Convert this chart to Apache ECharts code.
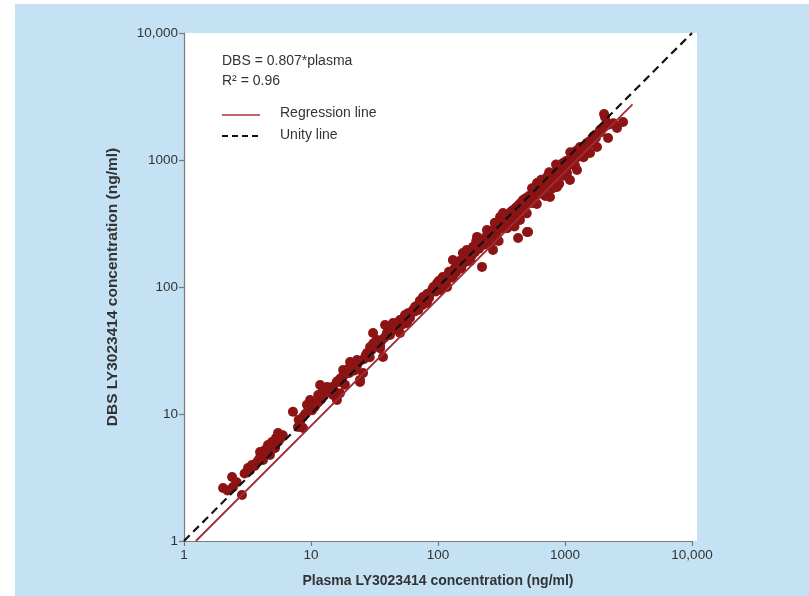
<!DOCTYPE html>
<html><head><meta charset="utf-8">
<script src="https://cdn.jsdelivr.net/npm/echarts@6/dist/echarts.min.js"></script>
<style>html,body{margin:0;padding:0;background:#fff}#c{width:809px;height:596px}</style>
</head><body><div id="c"></div>
<script>
// [plasma (ng/ml), DBS (ng/ml)]
const lowSamples = [
  [2.03,2.61],[2.39,3.19],[2.43,2.66],[2.86,2.30],[3.19,3.76],[3.43,3.97],[3.76,4.19],[3.97,5.02],
  [4.19,4.34],[4.34,5.21],[4.58,5.70],[4.75,4.75],[4.93,6.02],[5.21,5.40],[5.50,7.08],[5.30,6.47],
  [2.6,2.9],[3.0,3.4],[3.6,3.9],[4.0,4.6],[4.4,4.9],[5.0,5.3],[5.6,6.2],[6.0,6.8],
  [2.2,2.5],[3.3,3.6],[3.9,4.4],[4.7,5.5],[5.8,6.5]
];
const midLowSamples = [
  [7.21,10.4],[7.90,7.90],[8.19,8.49],[8.65,9.47],[8.65,7.76],[9.30,11.8],[9.83,12.9],[10.2,10.7],
  [10.7,11.4],[11.4,14.1],[11.8,16.9],[12.4,15.5],[13.4,16.3],[14.9,14.1],[11.4,12.4],[16.9,17.9],
  [24.3,17.9],[16.0,12.9],[16.9,14.6],[17.9,22.2],[21.4,23.4],[23.0,26.6],[24.3,18.5],[25.7,21.0],
  [27.6,30.2],[29.2,33.7],[33.1,38.3],[36.9,28.1],[30.8,43.4],[39.7,43.4],[44.2,52.1],[50.2,55.0],
  [50.2,43.4],[57.0,52.1],[63.5,65.9],[76.2,83.4],[86.5,89.7],[81.9,74.8],[20.3,25.7],[34.9,34.9],
  [41.9,41.9],[45.8,48.4],[55.0,60.2],[60.2,57.0],[69.6,72.1],[38.3,50.2],
  [9,10],[10,11],[10.5,12],[12,13],[13,14.5],[14,16],[15,16.5],[17,19],[18,20],[19,21],[20,23],
  [22,22],[24,26],[26,27],[28,30],[30,32],[32,35],[34,37],[36,38],[40,44],[42,46],[45,47],[48,52],
  [52,55],[55,58],
  [8.0,9.0],[9.5,10.5],[11,12],[12.5,14],[14.5,15],[16,18],[18.5,17],[20,21],
  [23,24],[27,29],[29,28],[31,36],[35,33],[38,40],[43,45],[47,50],[53,51],[58,62]
];
const midSamples = [
  [98.2,107],[109,120],[124,129],[131,163],[149,144],[157,185],[169,196],[189,207],[222,144],
  [203,248],[243,281],[257,266],[271,196],[292,319],[308,356],[325,383],[369,383],[419,427],
  [427,243],[502,271],[442,337],[530,459],[131,120],[104,94.7],[118,100],[141,155],[179,179],
  [214,214],[234,234],[349,337],[390,308],
  [60,62],[66,70],[70,66],[72,78],[78,80],[85,82],[90,95],[95,92],[100,104],[105,98],[112,115],
  [115,108],[120,125],[126,118],[135,140],[138,130],[145,150],[152,140],[160,168],[165,158],
  [175,170],[182,190],[195,188],[200,212],[210,200],[225,230],[230,215],[240,250],[250,238],
  [260,275],[270,258],[280,290],[290,270],[300,310],[315,300],[330,345],[340,320],[350,360],
  [360,340],[375,390],[380,355],[395,400],[400,370],[410,420],[420,390],[430,440],[440,410],
  [450,460],[460,430],[470,480],[480,440],[490,500],[500,460],
  [65,64],[75,72],[82,88],[92,100],[102,112],[108,105],[122,132],[128,122],[140,146],[148,160],
  [155,150],[172,180],[185,178],[198,205],[215,225],[235,242],[255,262],[275,280],[295,290],
  [310,330],[320,290],[335,350],[345,310],[365,370],[385,400],[405,390],[425,410],[445,450],
  [465,440],[485,470],
  [180,160],[200,230],[260,220],[320,360],[380,330],[450,400],[350,290],[280,320],[300,230],
  [400,300],[500,380]
];
const highSamples = [
  [467,484],[442,404],[512,271],[560,459],[602,659],[671,580],[722,735],[762,512],[865,613],
  [865,834],[964,947],[1037,791],[1156,1056],[1243,1135],[1313,1266],[1243,834],[1490,1361],
  [1661,1518],[1786,1266],[1887,1722],[2143,1955],[2183,1490],[2567,1786],[2864,1992],[1574,1135],
  [1094,696],[2066,2183],[2030,2300],
  [515,470],[520,520],[540,490],[550,530],[560,500],[580,560],[590,520],[600,580],[620,540],
  [640,600],[650,560],[680,640],[700,600],[720,680],[740,620],[760,700],[780,660],[800,760],
  [820,700],[850,800],[870,740],[900,850],[920,780],[950,900],[980,820],[1000,950],[1050,900],
  [1100,1000],[1150,980],[1200,1100],[1250,1050],[1300,1200],[1400,1250],[1450,1300],
  [1550,1400],[1600,1350],[1700,1550],[1800,1600],[1900,1650],[2000,1800],
  [505,490],[525,500],[545,510],[565,540],[585,580],[610,560],[630,620],[660,610],[690,660],
  [710,640],[730,700],[750,660],[790,720],[810,780],[840,730],[880,800],[910,880],[940,820],
  [970,900],[1020,980],[1080,920],[1120,1050],[1180,1040],[1230,1180],[1280,1120],[1350,1250],
  [1500,1300],[1650,1450],[1750,1500],[2200,1900],[2400,1950],
  [600,450],[700,520],[800,600],[900,650],[1000,750],[1200,900],[1400,1050],[650,700],[550,600],
  [750,800],[1100,1150],[850,920]
];
const regressionLine = [[1.24,1],[3400,2740]];
const unityLine = [[1,1],[10000,10000]];
const tickLabels = {1:'1',10:'10',100:'100',1000:'1000',10000:'10,000'};
const annotationLines = ['DBS = 0.807*plasma','R² = 0.96'];
const legendNames = ['Regression line','Unity line'];

const samples = lowSamples.concat(midLowSamples, midSamples, highSamples);
const chart = echarts.init(document.getElementById('c'), null, {renderer:'canvas'});
const font = '"Liberation Sans", Arial, Helvetica, sans-serif';
const txt = (x,y,t) => ({type:'text', silent:true, z:10,
  style:{x:x, y:y, text:t, fill:'#333', font:'14px '+font, verticalAlign:'middle', align:'left'}});
const axisCommon = {
  type:'log', logBase:10, min:1, max:10000,
  axisLine:{show:true, lineStyle:{color:'#7a7a7a', width:1.2}},
  axisTick:{show:true, length:5, lineStyle:{color:'#7a7a7a', width:1.2}},
  minorTick:{show:false}, splitLine:{show:false},
  axisLabel:{color:'#333', fontSize:13.5, fontFamily:font, formatter:v=>tickLabels[Math.round(v)]||''},
  nameLocation:'middle'
};
chart.setOption({
  backgroundColor:'#fff',
  animation:false,
  graphic:[
    {type:'rect', shape:{x:15, y:4, width:794, height:592}, style:{fill:'#c4e2f4'}, z:-10, silent:true},
    {type:'rect', shape:{x:184, y:33, width:513, height:508}, style:{fill:'#ffffff'}, z:-9, silent:true},
    txt(222, 61, annotationLines[0]),
    txt(222, 81, annotationLines[1]),
    {type:'line', silent:true, z:10, shape:{x1:222, y1:115, x2:260, y2:115}, style:{stroke:'#a8323e', lineWidth:1.6}},
    {type:'line', silent:true, z:10, shape:{x1:222, y1:136, x2:260, y2:136}, style:{stroke:'#111', lineWidth:2.2, lineDash:[6,4]}},
    txt(280, 113, legendNames[0]),
    txt(280, 135, legendNames[1])
  ],
  grid:{left:184, top:33, width:508, height:508, show:false},
  xAxis:Object.assign({}, axisCommon, {name:'Plasma LY3023414 concentration (ng/ml)', nameGap:33,
    nameTextStyle:{color:'#333', fontSize:14, fontWeight:'bold', fontFamily:font},
    axisLabel:Object.assign({}, axisCommon.axisLabel, {margin:7})}),
  yAxis:Object.assign({}, axisCommon, {name:'DBS LY3023414 concentration (ng/ml)', nameGap:63,
    nameTextStyle:{color:'#333', fontSize:15.5, fontWeight:'bold', fontFamily:font},
    axisLabel:Object.assign({}, axisCommon.axisLabel, {margin:6})}),
  series:[
    {type:'scatter', name:'Samples', data:samples, symbolSize:10,
     itemStyle:{color:'#8c1414', opacity:1}, z:2},
    {type:'line', name:'Regression line', data:regressionLine, symbol:'none',
     lineStyle:{color:'#a02c38', width:1.8}, z:3},
    {type:'line', name:'Unity line', data:unityLine, symbol:'none',
     lineStyle:{color:'#111', width:2.2, type:[8,5]}, z:4}
  ]
});
</script></body></html>
